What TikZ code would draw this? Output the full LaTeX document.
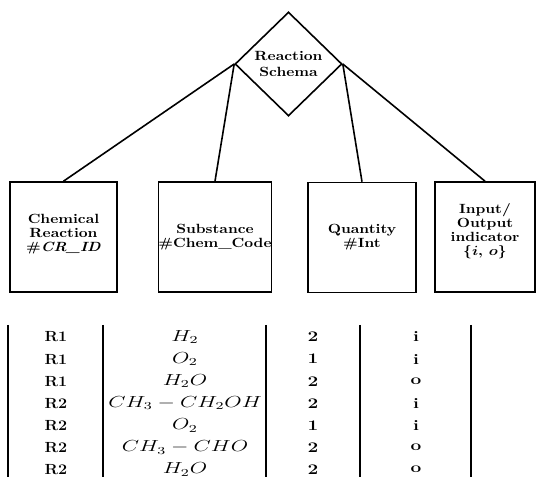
\documentclass[tikz,border=0pt]{standalone}
\usetikzlibrary{shapes.geometric}
\newcommand{\hw}[2][1.15]{\scalebox{#1}[1]{#2}}
\begin{document}
\begin{tikzpicture}[x=0.75pt,y=-0.75pt, line width=1.2pt,
  hdr/.style={font=\fontsize{10}{10.5}\selectfont\bfseries, align=center},
  ent/.style={draw, rectangle, inner sep=0pt, minimum height=82.5pt, hdr},
  cell/.style={font=\fontsize{11}{12}\selectfont\bfseries, inner sep=0pt, anchor=center},
  link/.style={line width=1.2pt}]
\useasboundingbox (0,0) rectangle (537,477);
% relationship diamond
\node[draw, diamond, minimum width=80.25pt, minimum height=78pt, inner sep=0pt, hdr]
  (rs) at (288.5,64) {\hw{Reaction}\\[1.5pt]\hw{Schema}};
% entity boxes
\node[ent, minimum width=80.25pt] (b1) at (63.5,237) {\hw{Chemical}\\\hw{Reaction}\\\hw{\#\textit{CR\_ID}}\\[-4pt]};
\node[ent, minimum width=79.5pt] (b2) at (215,237) {\hw{Substance}\\\hw{\#Chem\_Code}};
\node[ent, minimum width=81pt] (b3) at (362,237.5) {\hw{Quantity}\\\hw{\#Int}};
\node[ent, minimum width=75pt] (b4) at (485,237) {\hw{Input/}\\\hw{Output}\\\hw{indicator}\\\hw{{\boldmath$\{i,\,o\}$}}\\[1pt]};
% connectors
\draw[link] (rs.west) -- (b1.north);
\draw[link] (rs.west) -- (b2.north);
\draw[link] (rs.east) -- (b3.north);
\draw[link] (rs.east) -- (b4.north);
% table rules
\foreach \x in {8,103,266,360,471} \draw[line width=1.1pt] (\x,325) -- (\x,477);
% table rows
\foreach [count=\i from 0] \a/\b/\c/\d in {R1/H_2/2/i, R1/O_2/1/i, R1/H_2O/2/o,
   R2/CH_3-CH_2OH/2/i, R2/O_2/1/i, R2/CH_3-CHO/2/o, R2/H_2O/2/o} {
  \pgfmathsetmacro{\yy}{337+22.1*\i}
  \node[cell] (c1r\i) at (56,\yy) {\hw[1.1]{\a}};
  \node[cell] (c2r\i) at (185,\yy) {\fontsize{12}{12}\selectfont\hw[1.4]{$\b$}};
  \node[cell] (c3r\i) at (313,\yy) {\hw[1.3]{\c}};
  \node[cell] (c4r\i) at (416,\yy) {\hw[1.3]{\d}};
}
\end{tikzpicture}
\end{document}
